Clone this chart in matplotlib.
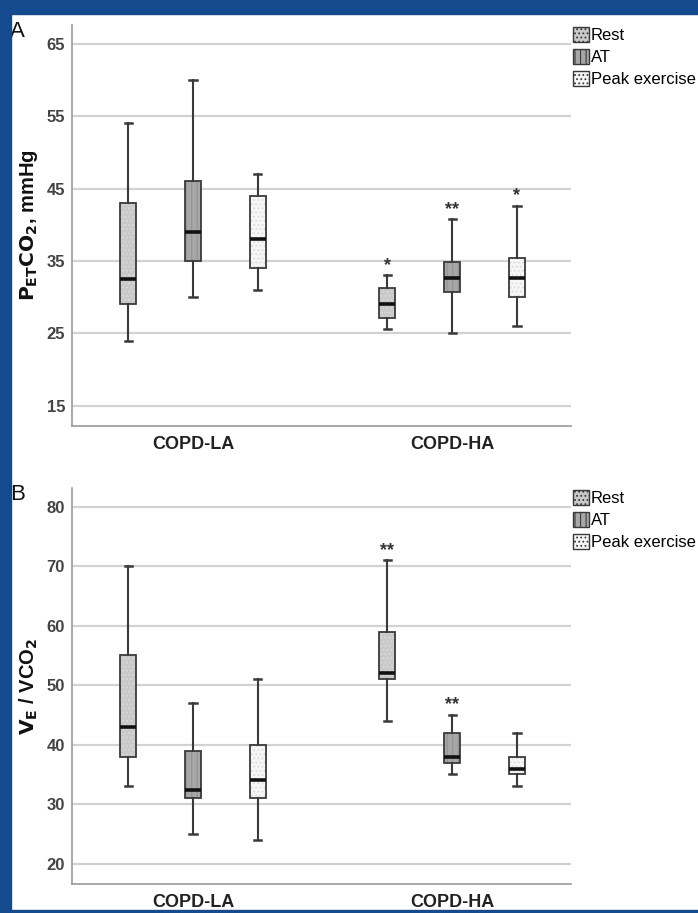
import matplotlib.pyplot as plt
from matplotlib.patches import Patch, PathPatch, Rectangle

plt.rcParams["font.family"] = ["Liberation Sans", "DejaVu Sans"]
plt.rcParams["hatch.linewidth"] = 0.8

groups = ["COPD-LA", "COPD-HA"]
conditions = ["Rest", "AT", "Peak exercise"]

# 順序: LA Rest, LA AT, LA Peak, HA Rest, HA AT, HA Peak
petco2_whislo = [24, 30, 31, 25.6, 25, 26]
petco2_q1 = [29, 35, 34, 27.1, 30.7, 30]
petco2_med = [32.5, 39, 38, 29.1, 32.7, 32.7]
petco2_q3 = [43, 46, 44, 31.3, 34.9, 35.4]
petco2_whishi = [54, 60, 47, 33, 40.8, 42.6]
petco2_marks = ["", "", "", "*", "**", "*"]
petco2_ticks = [15, 25, 35, 45, 55, 65]

vevco2_whislo = [33, 25, 24, 44, 35, 33]
vevco2_q1 = [38, 31, 31, 51.1, 37, 35]
vevco2_med = [43, 32.4, 34, 52.1, 38, 36]
vevco2_q3 = [55, 39, 40, 59, 42, 38]
vevco2_whishi = [70, 47, 51, 71, 45, 42]
vevco2_marks = ["", "", "", "**", "**", ""]
vevco2_ticks = [20, 30, 40, 50, 60, 70, 80]

face_colors = ["#c9c9c9", "#a7a7a7", "#f6f6f6"]
hatch_colors = ["#dadada", "#939393", "#dcdcdc"]
hatches = ["....", "|||", "...."]
offsets = [-0.25, 0.0, 0.25]
edge = "#3a3a3a"


def draw_panel(ax, whislo, q1, med, q3, whishi, marks, ticks, ylim, ylabel, letter):
    stats = []
    positions = []
    for i in range(len(med)):
        g, c = divmod(i, 3)
        stats.append(dict(whislo=whislo[i], q1=q1[i], med=med[i], q3=q3[i], whishi=whishi[i], fliers=[]))
        positions.append(g + offsets[c])

    # グリッド
    for t in ticks:
        ax.axhline(t, color="#d2d2d2", lw=1.6, zorder=0)

    bp = ax.bxp(
        stats,
        positions=positions,
        widths=0.062,
        capwidths=0.028,
        patch_artist=True,
        showfliers=False,
        boxprops=dict(linewidth=0),
        whiskerprops=dict(color=edge, linewidth=1.5),
        capprops=dict(color=edge, linewidth=1.8),
        medianprops=dict(color="#111111", linewidth=2.6),
        zorder=2,
    )
    for i, box in enumerate(bp["boxes"]):
        c = i % 3
        box.set_facecolor(face_colors[c])
        box.set_edgecolor(hatch_colors[c])
        box.set_hatch(hatches[c])
        outline = PathPatch(box.get_path(), facecolor="none", edgecolor=edge, linewidth=1.3, zorder=2.5)
        ax.add_patch(outline)
    for m in bp["medians"]:
        m.set_zorder(3)

    for i, mark in enumerate(marks):
        if mark:
            ax.annotate(mark, (positions[i], whishi[i]), xytext=(0, 1), textcoords="offset points",
                        ha="center", va="bottom", fontsize=13, fontweight="bold", color="#333333")

    ax.set_xlim(-0.467, 1.459)
    ax.set_ylim(*ylim)
    ax.set_yticks(ticks)
    ax.set_yticklabels([str(t) for t in ticks], fontsize=12, fontweight="bold", color="#444444")
    ax.set_xticks([0, 1])
    ax.set_xticklabels(groups, fontsize=13, fontweight="bold", color="#222222")
    ax.tick_params(axis="both", length=0, pad=5)
    ax.tick_params(axis="x", pad=7)
    for s in ["top", "right"]:
        ax.spines[s].set_visible(False)
    for s in ["left", "bottom"]:
        ax.spines[s].set_color("#9a9a9a")
        ax.spines[s].set_linewidth(1.2)
    ax.set_ylabel(ylabel, fontsize=14.5, fontweight="bold", color="#111111", labelpad=5)
    ax.text(-0.125, 1.01, letter, transform=ax.transAxes, fontsize=16, color="#111111", ha="left", va="top")

    handles = [Patch(facecolor=face_colors[c], edgecolor=edge, hatch=hatches[c], linewidth=1.0)
               for c in range(3)]
    ax.legend(handles, conditions, loc="upper left", bbox_to_anchor=(1.0, 1.0), frameon=False,
              fontsize=12, handlelength=1.0, handleheight=1.0, handletextpad=0.1,
              labelspacing=0.35, borderaxespad=0.0, borderpad=0.1)


fig = plt.figure(figsize=(6.98, 9.13), dpi=100)
ax_a = fig.add_axes([0.1032, 0.5334, 0.715, 0.4392])
ax_b = fig.add_axes([0.1032, 0.0318, 0.715, 0.4334])

draw_panel(ax_a, petco2_whislo, petco2_q1, petco2_med, petco2_q3, petco2_whishi, petco2_marks,
           petco2_ticks, (12.2, 67.6), r"$\mathbf{P_{ET}CO_2}$, mmHg", "A")
draw_panel(ax_b, vevco2_whislo, vevco2_q1, vevco2_med, vevco2_q3, vevco2_whishi, vevco2_marks,
           vevco2_ticks, (16.6, 83.1), r"$\mathbf{V_E}$ / VCO$_\mathbf{2}$", "B")

# 青い枠
blue = "#164a8f"
fig.patches.append(Rectangle((0, 1 - 14 / 913), 1, 14 / 913, transform=fig.transFigure, color=blue, zorder=10))
fig.patches.append(Rectangle((0, 0), 11 / 698, 1, transform=fig.transFigure, color=blue, zorder=10))
fig.patches.append(Rectangle((0, 0), 1, 3 / 913, transform=fig.transFigure, color=blue, zorder=10))

fig.savefig("out.png", dpi=100)
plt.close(fig)
